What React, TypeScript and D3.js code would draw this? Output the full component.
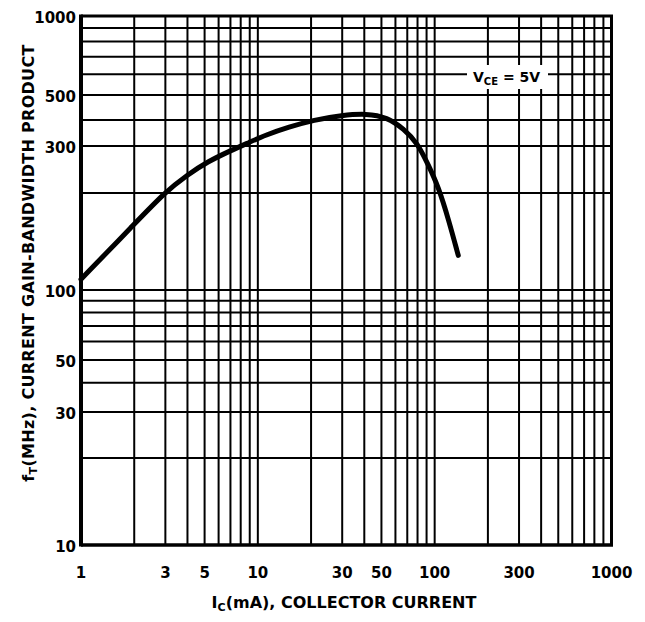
import * as d3 from 'd3';
import React from 'react';

// I_C (mA) vs f_T (MHz) (V_CE = 5V)
const collectorCurrent = [1, 2, 3, 4, 5.2, 7, 9, 11, 15, 20.7, 30, 41, 54, 67, 80, 92, 105, 120, 136];
const gainBandwidth = [108, 160, 202, 234, 262, 288, 313, 338, 370, 400, 417, 424, 410, 362, 310, 255, 211, 165, 128];

const xTickLabels = [1, 3, 5, 10, 30, 50, 100, 300, 1000];
const yTickLabels = [10, 30, 50, 100, 300, 500, 1000];

export default function App() {
  const svgRef = React.useRef<SVGSVGElement>(null);
  const w = 645;
  const h = 622;

  React.useEffect(() => {
    if (svgRef.current == null) {
      return;
    }
    const svg = d3.select(svgRef.current);
    svg.selectAll('*').remove();

    const left = 81;
    const right = 611.5;
    const top = 16;
    const bottom = 545;
    const font = "'DejaVu Sans', sans-serif";

    const xScale = d3.scaleLog().domain([1, 1000]).range([left, right]);
    // the printed grid is not quite logarithmic, so the scale is pinned at the main lines
    const yScale = d3
      .scaleLog()
      .domain([1000, 500, 400, 300, 200, 100, 50, 30, 20, 10])
      .range([top, 95, 120, 146, 193, 290, 360, 412, 458, bottom]);

    svg.append('rect').attr('width', w).attr('height', h).attr('fill', 'white');

    const xGrid: number[] = [];
    const yGrid: number[] = [];
    for (const d of [1, 10, 100]) {
      for (let k = 1; k < 10; k++) {
        xGrid.push(d * k);
      }
    }
    xGrid.push(1000);
    for (const d of [10, 100]) {
      for (let k = 1; k < 10; k++) {
        yGrid.push(d * k);
      }
    }
    yGrid.push(1000);

    const grid = svg.append('g').attr('stroke', '#000').attr('stroke-width', 2);
    grid
      .selectAll('line.v')
      .data(xGrid)
      .join('line')
      .attr('class', 'v')
      .attr('x1', (d) => xScale(d))
      .attr('x2', (d) => xScale(d))
      .attr('y1', top)
      .attr('y2', bottom);
    grid
      .selectAll('line.h')
      .data(yGrid)
      .join('line')
      .attr('class', 'h')
      .attr('x1', left)
      .attr('x2', right)
      .attr('y1', (d) => yScale(d))
      .attr('y2', (d) => yScale(d));

    // frame
    svg
      .append('line')
      .attr('x1', left)
      .attr('x2', left)
      .attr('y1', top - 1.5)
      .attr('y2', bottom + 1.5)
      .attr('stroke', '#000')
      .attr('stroke-width', 4);
    svg
      .append('line')
      .attr('x1', left)
      .attr('x2', right + 1.5)
      .attr('y1', bottom)
      .attr('y2', bottom)
      .attr('stroke', '#000')
      .attr('stroke-width', 3.5);
    svg
      .append('line')
      .attr('x1', left)
      .attr('x2', right + 1.5)
      .attr('y1', top)
      .attr('y2', top)
      .attr('stroke', '#000')
      .attr('stroke-width', 3);
    svg
      .append('line')
      .attr('x1', right)
      .attr('x2', right)
      .attr('y1', top)
      .attr('y2', bottom)
      .attr('stroke', '#000')
      .attr('stroke-width', 3);

    // V_CE label sitting on a white patch over the grid
    svg
      .append('rect')
      .attr('x', 467)
      .attr('y', 65)
      .attr('width', 81)
      .attr('height', 24)
      .attr('fill', 'white');
    const vce = svg
      .append('text')
      .attr('x', 473)
      .attr('y', 82)
      .style('font-family', font)
      .style('font-size', '14px')
      .style('font-weight', 'bold')
      .attr('fill', '#000');
    vce.append('tspan').text('V');
    vce.append('tspan').attr('dy', 3).style('font-size', '10px').text('CE');
    vce.append('tspan').attr('dy', -3).text(' = 5V');

    const line = d3
      .line<number>()
      .x((d, i) => xScale(collectorCurrent[i]))
      .y((d) => yScale(d))
      .curve(d3.curveBasis);
    svg
      .append('path')
      .attr('d', line(gainBandwidth))
      .attr('fill', 'none')
      .attr('stroke', '#000')
      .attr('stroke-width', 5)
      .attr('stroke-linecap', 'round');

    svg
      .selectAll('text.ytick')
      .data(yTickLabels)
      .join('text')
      .attr('class', 'ytick')
      .attr('x', 76)
      .attr('y', (d) => yScale(d) + 7)
      .attr('text-anchor', 'end')
      .style('font-family', font)
      .style('font-size', '15px')
      .style('font-weight', 'bold')
      .text((d) => d);

    svg
      .selectAll('text.xtick')
      .data(xTickLabels)
      .join('text')
      .attr('class', 'xtick')
      .attr('x', (d) => xScale(d))
      .attr('y', 578)
      .attr('text-anchor', 'middle')
      .style('font-family', font)
      .style('font-size', '15px')
      .style('font-weight', 'bold')
      .text((d) => d);

    const xTitle = svg
      .append('text')
      .attr('x', 344)
      .attr('y', 608)
      .attr('text-anchor', 'middle')
      .style('font-family', font)
      .style('font-size', '16px')
      .style('font-weight', 'bold');
    xTitle.append('tspan').text('I');
    xTitle.append('tspan').attr('dy', 3).style('font-size', '11px').text('C');
    xTitle.append('tspan').attr('dy', -3).text('(mA), COLLECTOR CURRENT');

    const yTitle = svg
      .append('text')
      .attr('transform', 'translate(34, 263) rotate(-90)')
      .attr('text-anchor', 'middle')
      .style('font-family', font)
      .style('font-size', '16px')
      .style('font-weight', 'bold')
      .style('letter-spacing', '0.3px');
    yTitle.append('tspan').text('f');
    yTitle.append('tspan').attr('dy', 3).style('font-size', '11px').text('T');
    yTitle.append('tspan').attr('dy', -3).text('(MHz), CURRENT GAIN-BANDWIDTH PRODUCT');
  }, []);

  return (
    <svg
      ref={svgRef}
      width={w}
      height={h}
      style={{ position: 'absolute', left: 0, top: 0 }}
    ></svg>
  );
}
